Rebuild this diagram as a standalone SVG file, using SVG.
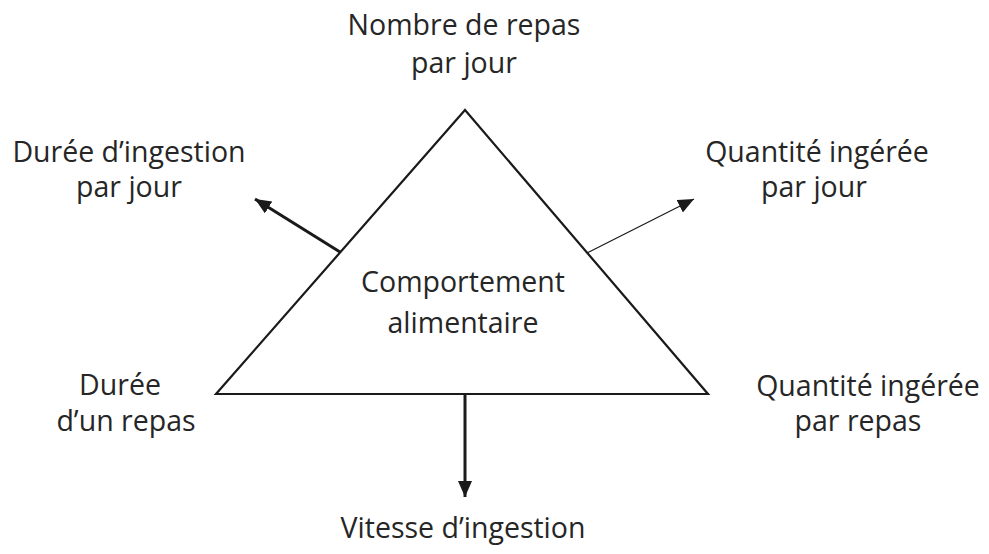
<svg xmlns="http://www.w3.org/2000/svg" width="989" height="554" viewBox="0 0 989 554">
  <style>
    .t { font-family: "Open Sans", "Liberation Sans", sans-serif; font-size: 28.5px; fill: #262626; text-anchor: middle; }
    .edge { stroke: #1a1a1a; fill: none; }
  </style>
  <defs>
    <marker id="ah" markerUnits="userSpaceOnUse" markerWidth="18" markerHeight="16" refX="16" refY="7" orient="auto">
      <path d="M0,0 L16,7 L0,14 Z" fill="#1a1a1a"/>
    </marker>
  </defs>
  <rect width="989" height="554" fill="#ffffff"/>
  <g id="triangle">
    <polygon points="465,110 216,394 708,394" fill="#ffffff" stroke="#1a1a1a" stroke-width="2.2"/>
    <text class="t" x="463" y="292">Comportement</text>
    <text class="t" x="463" y="333">alimentaire</text>
  </g>
  <g id="n-nombre">
    <text class="t" x="464" y="35">Nombre de repas</text>
    <text class="t" x="464" y="73">par jour</text>
  </g>
  <g id="n-duree-jour">
    <text class="t" x="129" y="162">Durée d’ingestion</text>
    <text class="t" x="129" y="197">par jour</text>
  </g>
  <g id="n-quantite-jour">
    <text class="t" x="817" y="162">Quantité ingérée</text>
    <text class="t" x="814" y="197">par jour</text>
  </g>
  <g id="n-duree-repas">
    <text class="t" x="120" y="395">Durée</text>
    <text class="t" x="126" y="431">d’un repas</text>
  </g>
  <g id="n-quantite-repas">
    <text class="t" x="868" y="396">Quantité ingérée</text>
    <text class="t" x="858" y="431">par repas</text>
  </g>
  <g id="n-vitesse">
    <text class="t" x="463" y="538">Vitesse d’ingestion</text>
  </g>
  <g id="connectors">
    <line class="edge" x1="340" y1="252" x2="255" y2="199" stroke-width="3" marker-end="url(#ah)"/>
    <line class="edge" x1="587" y1="253" x2="694" y2="199" stroke-width="1.2" marker-end="url(#ah)"/>
    <line class="edge" x1="465" y1="394" x2="465" y2="497" stroke-width="3" marker-end="url(#ah)"/>
  </g>
</svg>
